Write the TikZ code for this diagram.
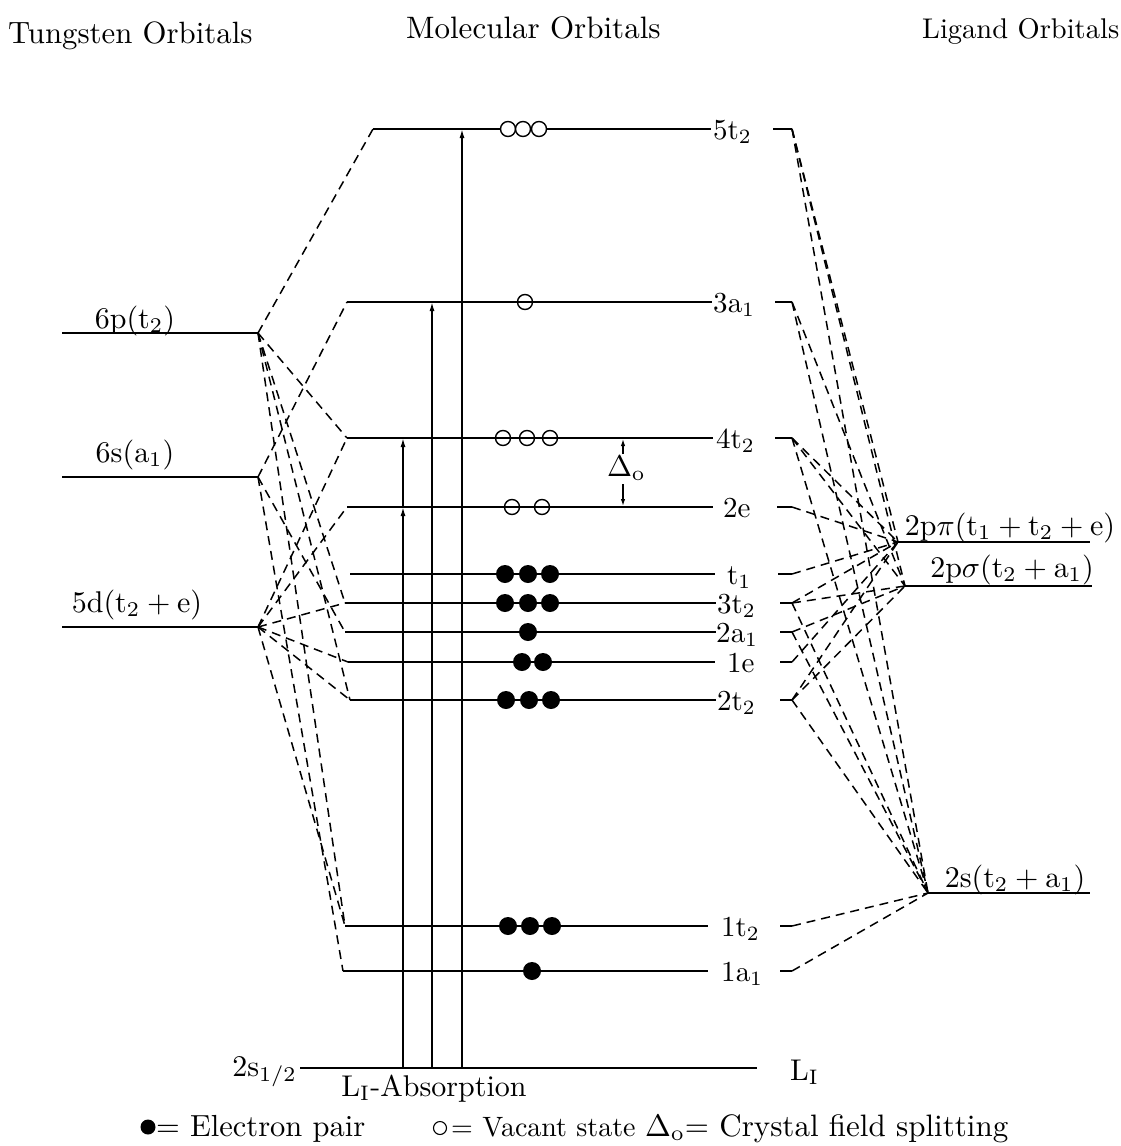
\documentclass[tikz,border=0pt]{standalone}
\usetikzlibrary{arrows.meta}
\newcommand\mytxt[2][3]{\scalebox{#1}{#2}}
\tikzset{
  lev/.style={line width=1.8pt},
  conn/.style={line width=1.5pt, dash pattern=on 9pt off 6pt},
  lbl/.style={anchor=base west, inner sep=0pt},
  clbl/.style={anchor=base, inner sep=0pt},
  absarrow/.style={line width=1.5pt, -{Latex[length=9pt,width=5pt]}},
  edot/.style={fill=black},
  vdot/.style={draw=black, line width=1.4pt}
}
\newcommand\molevel[7]{%
  \coordinate (#1L) at (#3,#2);
  \coordinate (#1R) at (#4,#2);
  \draw[lev] (#1L) -- (#1R);
  \node[lbl] (#1t) at (#5,#2+10) {\mytxt[2.9]{#6}};
  \coordinate (#1S) at (#7,#2);
  \coordinate (#1E) at (792,#2);
  \draw[lev] (#1S) -- (#1E);
}
\begin{document}
\begin{tikzpicture}[x=1pt,y=-1pt]
\useasboundingbox (0,0) rectangle (1121,1146);

% titles
\node[lbl] (tW) at (8,43) {\mytxt[3.08]{Tungsten Orbitals}};
\node[lbl] (tM) at (406,38) {\mytxt[3.1]{Molecular Orbitals}};
\node[lbl] (tL) at (922,38) {\mytxt[2.85]{Ligand Orbitals}};

% tungsten orbitals
\coordinate (W6pA) at (62,333); \coordinate (W6p) at (258,333);
\coordinate (W6sA) at (62,477); \coordinate (W6s) at (258,477);
\coordinate (W5dA) at (62,627); \coordinate (W5d) at (258,627);
\draw[lev] (W6pA) -- (W6p);
\draw[lev] (W6sA) -- (W6s);
\draw[lev] (W5dA) -- (W5d);
\node[clbl] (W6pt) at (135,328) {\mytxt{$6\mathrm{p}(\mathrm{t}_2)$}};
\node[clbl] (W6st) at (135,462) {\mytxt{$6\mathrm{s}(\mathrm{a}_1)$}};
\node[clbl] (W5dt) at (137,612) {\mytxt{$5\mathrm{d}(\mathrm{t}_2+\mathrm{e})$}};

% molecular orbitals: name, y, x left, x right, label x, label, stub start
\molevel{m5t2}{129}{373}{711}{713}{$\mathrm{5t}_2$}{773}
\molevel{m3a1}{302}{347}{712}{713}{$\mathrm{3a}_1$}{775}
\molevel{m4t2}{438}{347}{713}{716}{$\mathrm{4t}_2$}{775}
\molevel{m2e}{507}{347}{713}{723}{$\mathrm{2e}$}{777}
\molevel{mt1}{574}{350}{715}{727}{$\mathrm{t}_1$}{778}
\molevel{m3t2}{603}{345}{716}{717}{$\mathrm{3t}_2$}{780}
\molevel{m2a1}{632}{345}{716}{716}{$\mathrm{2a}_1$}{780}
\molevel{m1e}{662}{348}{715}{727}{$\mathrm{1e}$}{780}
\molevel{m2t2}{700}{350}{716}{717}{$\mathrm{2t}_2$}{780}
\molevel{m1t2}{926}{345}{708}{721}{$\mathrm{1t}_2$}{780}
\molevel{m1a1}{971}{343}{708}{721}{$\mathrm{1a}_1$}{780}

% ligand orbitals
\coordinate (Lpi) at (898,542); \coordinate (LpiE) at (1090,542);
\coordinate (Lsig) at (905,586); \coordinate (LsigE) at (1092,586);
\coordinate (Ls) at (928,893); \coordinate (LsE) at (1090,893);
\draw[lev] (Lpi) -- (LpiE);
\draw[lev] (Lsig) -- (LsigE);
\draw[lev] (Ls) -- (LsE);
\node[clbl] (Lpit) at (1010,535) {\mytxt{$2\mathrm{p}\pi(\mathrm{t}_1+\mathrm{t}_2+\mathrm{e})$}};
\node[clbl] (Lsigt) at (1012,577) {\mytxt{$2\mathrm{p}\sigma(\mathrm{t}_2+\mathrm{a}_1)$}};
\node[clbl] (Lst) at (1015,887) {\mytxt{$2\mathrm{s}(\mathrm{t}_2+\mathrm{a}_1)$}};

% left correlation lines
\foreach \a/\b in {W6p/m5t2L, W6p/m4t2L, W6p/m3t2L, W6p/m2t2L, W6p/m1t2L,
                   W6s/m3a1L, W6s/m2a1L, W6s/m1a1L,
                   W5d/m4t2L, W5d/m2eL, W5d/m3t2L, W5d/m1eL, W5d/m2t2L, W5d/m1t2L}
  \draw[conn] (\a) -- (\b);

% right correlation lines
\foreach \a/\b in {m5t2E/Lpi, m5t2E/Lsig, m5t2E/Ls,
                   m3a1E/Lsig, m3a1E/Ls,
                   m4t2E/Lpi, m4t2E/Lsig, m4t2E/Ls,
                   m2eE/Lpi, mt1E/Lpi,
                   m3t2E/Lpi, m3t2E/Lsig, m3t2E/Ls,
                   m2a1E/Lsig, m2a1E/Ls,
                   m1eE/Lpi,
                   m2t2E/Lpi, m2t2E/Lsig, m2t2E/Ls,
                   m1t2E/Ls, m1a1E/Ls}
  \draw[conn] (\a) -- (\b);

% occupation
\foreach \x in {508,523,539} \draw[vdot,fill=white] (\x,129) circle (7.5pt);
\draw[vdot] (525,302) circle (7.5pt);
\foreach \x in {503,527,550} \draw[vdot] (\x,438) circle (7.5pt);
\foreach \x in {512,542} \draw[vdot] (\x,507) circle (7.5pt);
\foreach \x in {505,528,550} \fill[edot] (\x,574) circle (9pt);
\foreach \x in {505,528,550} \fill[edot] (\x,603) circle (9pt);
\fill[edot] (528,632) circle (9pt);
\foreach \x in {522,543} \fill[edot] (\x,662) circle (9pt);
\foreach \x in {506,529,551} \fill[edot] (\x,700) circle (9pt);
\foreach \x in {508,530,552} \fill[edot] (\x,926) circle (9pt);
\fill[edot] (532,971) circle (9pt);

% crystal field splitting
\coordinate (D1) at (623,454); \coordinate (D1t) at (623,439);
\coordinate (D2) at (623,484); \coordinate (D2t) at (623,506);
\draw[line width=1.3pt,-{Latex[length=7pt,width=4.5pt]}] (D1) -- (D1t);
\draw[line width=1.3pt,-{Latex[length=7pt,width=4.5pt]}] (D2) -- (D2t);
\node[lbl] (Dlab) at (607,476) {\mytxt{$\Delta_{\mathrm{o}}$}};

% core level and absorption
\coordinate (Bl) at (300,1068); \coordinate (Br) at (757,1068);
\draw[lev] (Bl) -- (Br);
\node[anchor=base east, inner sep=0pt] (Blab) at (297,1076) {\mytxt{$\mathrm{2s}_{1/2}$}};
\node[lbl] (Brlab) at (790,1080) {\mytxt{$\mathrm{L_I}$}};
\node[clbl] (Absl) at (434,1096) {\mytxt{$\mathrm{L_I}$-Absorption}};
\coordinate (A1) at (403,1068); \coordinate (A1a) at (403,507); \coordinate (A1b) at (403,438);
\coordinate (A2) at (432,1068); \coordinate (A2a) at (432,302);
\coordinate (A3) at (462,1068); \coordinate (A3a) at (462,129);
\draw[absarrow] (A1) -- (A1a);
\draw[absarrow] (A1a) -- (A1b);
\draw[absarrow] (A2) -- (A2a);
\draw[absarrow] (A3) -- (A3a);

% legend
\fill[edot] (148,1127) circle (7.5pt);
\node[lbl] (leg1) at (156,1136) {\mytxt[3.05]{$=$ Electron pair}};
\draw[vdot,line width=1.1pt] (440,1128) circle (6.5pt);
\node[lbl] (leg2) at (451,1136) {\mytxt[2.8]{$=$ Vacant state}};
\node[lbl] (leg3) at (645,1136) {\mytxt[3.1]{$\Delta_{\mathrm{o}}$$=$ Crystal field splitting}};
\end{tikzpicture}
\end{document}
